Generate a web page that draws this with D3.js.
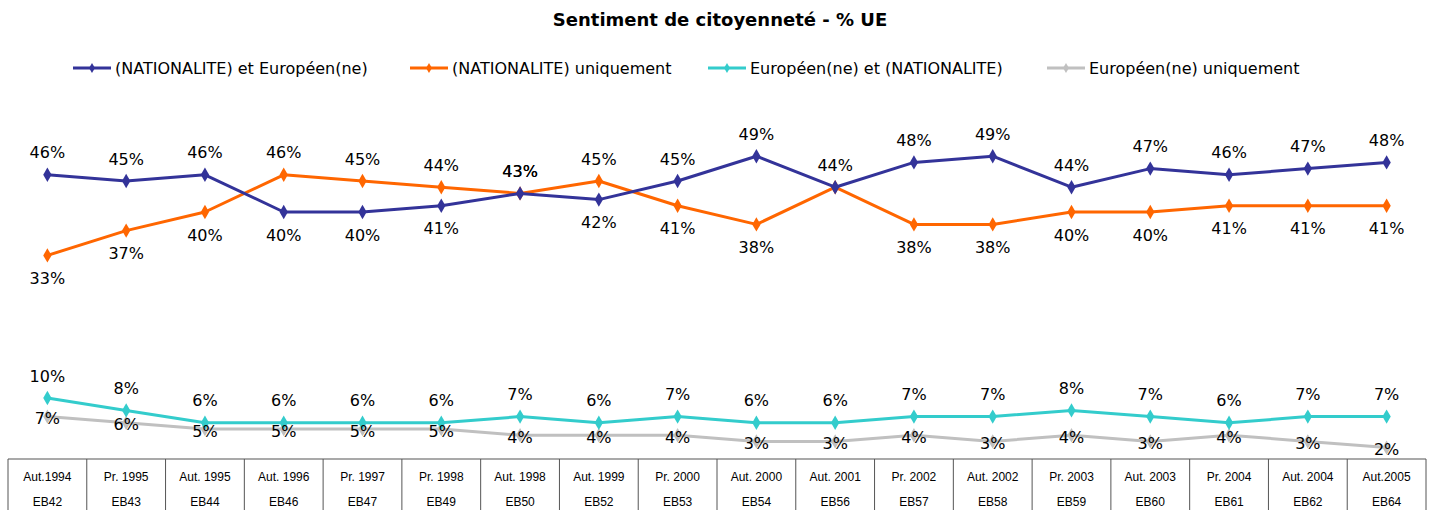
<!DOCTYPE html>
<html>
<head>
<meta charset="utf-8">
<script src="https://cdn.jsdelivr.net/npm/d3@7"></script>
<style>
  html, body { margin: 0; padding: 0; background: #fff; }
  svg { display: block; }
</style>
</head>
<body>
<svg id="chart" width="1433" height="510"></svg>
<script>
const periods = ["Aut.1994","Pr. 1995","Aut. 1995","Aut. 1996","Pr. 1997","Pr. 1998","Aut. 1998","Aut. 1999","Pr. 2000","Aut. 2000","Aut. 2001","Pr. 2002","Aut. 2002","Pr. 2003","Aut. 2003","Pr. 2004","Aut. 2004","Aut.2005"];
const surveys = ["EB42","EB43","EB44","EB46","EB47","EB49","EB50","EB52","EB53","EB54","EB56","EB57","EB58","EB59","EB60","EB61","EB62","EB64"];
const natAndEur = [46,45,46,40,40,41,43,42,45,49,44,48,49,44,47,46,47,48];
const natOnly   = [33,37,40,46,45,44,43,45,41,38,44,38,38,40,40,41,41,41];
const eurAndNat = [10,8,6,6,6,6,7,6,7,6,6,7,7,8,7,6,7,7];
const eurOnly   = [7,6,5,5,5,5,4,4,4,3,3,4,3,4,3,4,3,2];
const seriesNames = ["(NATIONALITE) et Européen(ne)","(NATIONALITE) uniquement","Européen(ne) et (NATIONALITE)","Européen(ne) uniquement"];
const colors = ["#333399","#FF6600","#33CCCC","#C0C0C0"];
// labels not shown in the original (series index, point index)
const hiddenLabels = [[1, 10]];

const svg = d3.select("#chart");
const font = "'DejaVu Sans', Verdana, sans-serif";

const x = d3.scaleBand().domain(periods).range([8, 1426]).padding(0);
const cx = p => x(p) + x.bandwidth() / 2;
const y = d3.scaleLinear().domain([0, 50]).range([460, 150]);

// Title
svg.append("text").attr("x", 720).attr("y", 19).attr("text-anchor", "middle")
  .attr("dominant-baseline", "central").attr("font-family", font)
  .attr("font-weight", "bold").attr("font-size", 18).text("Sentiment de citoyenneté - % UE");

// Legend
const legX = [73, 410, 708, 1047];
const diamond = d3.symbol().type(d3.symbolDiamond);
seriesNames.forEach((name, i) => {
  const g = svg.append("g").attr("transform", `translate(${legX[i]},68)`);
  g.append("line").attr("x1", 0).attr("x2", 38).attr("y1", 0).attr("y2", 0)
    .attr("stroke", colors[i]).attr("stroke-width", 3);
  g.append("path").attr("d", diamond.size(30)()).attr("transform", "translate(19,0)").attr("fill", colors[i]);
  g.append("text").attr("x", 42).attr("y", 0).attr("dominant-baseline", "central")
    .attr("font-family", font).attr("font-size", 16).attr("fill", "#000").text(name);
});

// Lines
const allSeries = [natAndEur, natOnly, eurAndNat, eurOnly];
const line = d3.line().x((d, i) => cx(periods[i])).y(d => y(d));
[3, 2, 1, 0].forEach(si => {
  svg.append("path").datum(allSeries[si]).attr("d", line)
    .attr("fill", "none").attr("stroke", colors[si]).attr("stroke-width", 3)
    .attr("stroke-linejoin", "round");
  svg.selectAll(null).data(allSeries[si]).enter().append("path")
    .attr("d", diamond.size(60)())
    .attr("transform", (d, i) => `translate(${cx(periods[i])},${y(d)})`)
    .attr("fill", colors[si]);
});

// Labels
const isHidden = (s, i) => hiddenLabels.some(h => h[0] === s && h[1] === i);
function label(s, i, xp, yp, txt) {
  if (isHidden(s, i)) return;
  svg.append("text").attr("x", xp).attr("y", yp).attr("text-anchor", "middle")
    .attr("dominant-baseline", "central").attr("font-family", font)
    .attr("font-size", 16).attr("fill", "#000").text(txt);
}
periods.forEach((p, i) => {
  const a = natAndEur[i], b = natOnly[i];
  if (a > b) {
    label(0, i, cx(p), y(a) - 22, a + "%");
    label(1, i, cx(p), y(b) + 23, b + "%");
  } else if (b > a) {
    label(1, i, cx(p), y(b) - 22, b + "%");
    label(0, i, cx(p), y(a) + 23, a + "%");
  } else {
    label(0, i, cx(p), y(a) - 22, a + "%");
    label(1, i, cx(p), y(b) - 22, b + "%");
  }
  label(2, i, cx(p), y(eurAndNat[i]) - 22, eurAndNat[i] + "%");
  label(3, i, cx(p), y(eurOnly[i]) + 2, eurOnly[i] + "%");
});

// Table
const tbl = svg.append("g");
tbl.append("line").attr("x1", 8).attr("x2", 1426).attr("y1", 459).attr("y2", 459)
  .attr("stroke", "#555").attr("stroke-width", 1.2);
d3.range(periods.length + 1).forEach(k => {
  const xx = k < periods.length ? x(periods[k]) : 1426;
  tbl.append("line").attr("x1", xx).attr("x2", xx).attr("y1", 459).attr("y2", 512)
    .attr("stroke", "#555").attr("stroke-width", 1);
});
const tfont = "'Liberation Sans', Arial, sans-serif";
periods.forEach((p, i) => {
  tbl.append("text").attr("x", cx(p)).attr("y", 477).attr("text-anchor", "middle")
    .attr("dominant-baseline", "central").attr("font-family", tfont)
    .attr("font-size", 12).text(p);
  tbl.append("text").attr("x", cx(p)).attr("y", 502).attr("text-anchor", "middle")
    .attr("dominant-baseline", "central").attr("font-family", tfont)
    .attr("font-size", 12).text(surveys[i]);
});
</script>
</body>
</html>
